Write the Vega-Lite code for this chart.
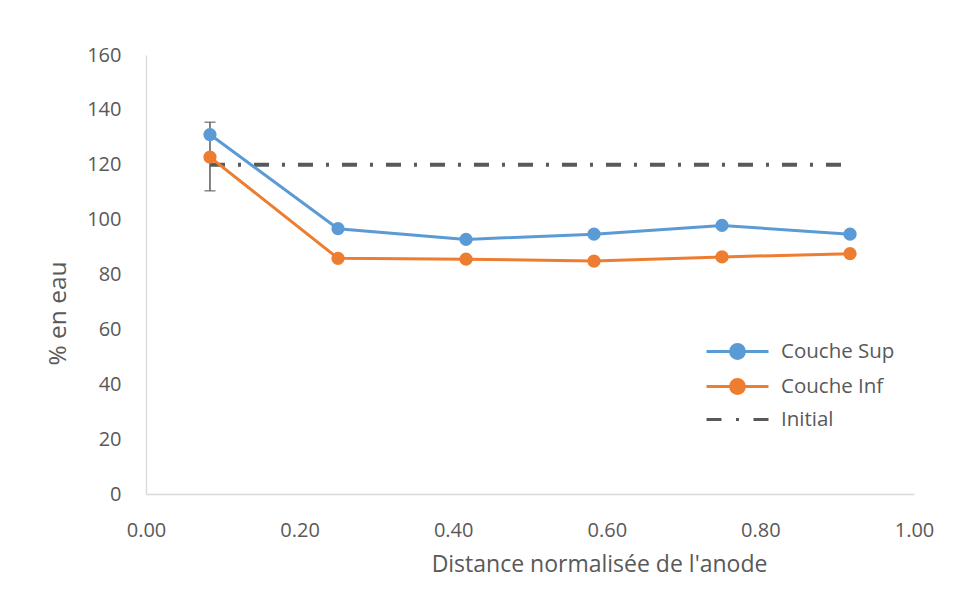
{
  "$schema": "https://vega.github.io/schema/vega-lite/v6.json",
  "autosize": {"type": "none"},
  "width": 768,
  "height": 439,
  "padding": {"left": 146, "top": 55, "right": 64, "bottom": 117},
  "background": "white",
  "config": {
    "view": {"stroke": null},
    "font": "Open Sans",
    "axis": {"domainColor": "#d9d9d9", "domainWidth": 1.3, "grid": false, "ticks": false, "labelColor": "#595959", "titleColor": "#595959", "labelFont": "Open Sans", "titleFont": "Open Sans", "labelFontSize": 20, "titleFontSize": 23, "titleFontWeight": "normal"}
  },
  "datasets": {
    "series": [
      {"x": 0.0833, "y": 131.0, "serie": "Couche Sup"},
      {"x": 0.25, "y": 96.7, "serie": "Couche Sup"},
      {"x": 0.4167, "y": 92.8, "serie": "Couche Sup"},
      {"x": 0.5833, "y": 94.7, "serie": "Couche Sup"},
      {"x": 0.75, "y": 97.9, "serie": "Couche Sup"},
      {"x": 0.9167, "y": 94.7, "serie": "Couche Sup"},
      {"x": 0.0833, "y": 122.8, "serie": "Couche Inf"},
      {"x": 0.25, "y": 85.9, "serie": "Couche Inf"},
      {"x": 0.4167, "y": 85.6, "serie": "Couche Inf"},
      {"x": 0.5833, "y": 84.9, "serie": "Couche Inf"},
      {"x": 0.75, "y": 86.4, "serie": "Couche Inf"},
      {"x": 0.9167, "y": 87.6, "serie": "Couche Inf"}
    ],
    "initial": [
      {"x": 0.0833, "y": 120, "serie": "Initial"},
      {"x": 0.9167, "y": 120, "serie": "Initial"}
    ],
    "err": [
      {"x": 0.0833, "lo": 110.5, "hi": 135.5}
    ]
  },
  "layer": [
    {
      "data": {"name": "err"},
      "mark": {"type": "rule", "color": "#595959", "strokeWidth": 1.5},
      "encoding": {
        "x": {"field": "x", "type": "quantitative", "scale": {"domain": [0, 1], "nice": false}},
        "y": {"field": "lo", "type": "quantitative"},
        "y2": {"field": "hi"}
      }
    },
    {
      "data": {"name": "err"},
      "mark": {"type": "tick", "orient": "horizontal", "color": "#595959", "thickness": 1.5, "size": 11},
      "encoding": {
        "x": {"field": "x", "type": "quantitative"},
        "y": {"field": "lo", "type": "quantitative"}
      }
    },
    {
      "data": {"name": "err"},
      "mark": {"type": "tick", "orient": "horizontal", "color": "#595959", "thickness": 1.5, "size": 11},
      "encoding": {
        "x": {"field": "x", "type": "quantitative"},
        "y": {"field": "hi", "type": "quantitative"}
      }
    },
    {
      "data": {"name": "initial"},
      "mark": {"type": "line", "strokeWidth": 3.8, "strokeDash": [15, 13, 3, 13]},
      "encoding": {
        "x": {"field": "x", "type": "quantitative"},
        "y": {"field": "y", "type": "quantitative"},
        "color": {"field": "serie", "type": "nominal"}
      }
    },
    {
      "data": {"name": "series"},
      "mark": {"type": "line", "strokeWidth": 3},
      "encoding": {
        "x": {"field": "x", "type": "quantitative"},
        "y": {"field": "y", "type": "quantitative"},
        "color": {"field": "serie", "type": "nominal"}
      }
    },
    {
      "data": {"name": "series"},
      "mark": {"type": "point", "filled": true, "opacity": 1, "size": 175, "shape": "circle"},
      "encoding": {
        "x": {"field": "x", "type": "quantitative"},
        "y": {"field": "y", "type": "quantitative"},
        "color": {"field": "serie", "type": "nominal"}
      }
    },
    {
      "data": {"name": "series"},
      "mark": {"type": "point", "filled": true, "opacity": 0},
      "encoding": {
        "x": {"field": "x", "type": "quantitative",
          "axis": {"title": "Distance normalisée de l'anode", "format": ".2f", "values": [0, 0.2, 0.4, 0.6, 0.8, 1.0], "labelFlush": false, "labelFontSize": 20, "labelPadding": 26, "titleX": 453, "titleY": 70, "titleBaseline": "middle"}},
        "y": {"field": "y", "type": "quantitative",
          "scale": {"domain": [0, 160]},
          "axis": {"title": "% en eau", "titleFontSize": 24.5, "labelFontSize": 20, "values": [0, 20, 40, 60, 80, 100, 120, 140, 160], "labelPadding": 25, "titleX": -88, "titleY": 258, "titleBaseline": "middle", "titleAngle": -90}},
        "color": {
          "field": "serie", "type": "nominal",
          "scale": {"domain": ["Couche Sup", "Couche Inf", "Initial"], "range": ["#5b9bd5", "#ed7d31", "#595959"]},
          "legend": {
            "title": null, "orient": "none", "legendX": 580, "legendY": 285,
            "labelFontSize": 20.5, "labelColor": "#595959", "labelFont": "Open Sans",
            "symbolSize": 400, "symbolStrokeWidth": 3, "symbolOpacity": 1,
            "rowPadding": 8, "labelOffset": 32,
            "encode": {"symbols": {"update": {"fill": {"scale": "color", "field": "value"}, "stroke": {"scale": "color", "field": "value"}, "opacity": {"value": 1}, "strokeWidth": {"value": 3}}}}
          }
        },
        "shape": {
          "field": "serie", "type": "nominal",
          "scale": {"domain": ["Couche Sup", "Couche Inf", "Initial"], "range": ["M-3.1,0H-0.72M0.72,0H3.1M-0.69,0A0.69,0.69,0,1,0,0.69,0A0.69,0.69,0,1,0,-0.69,0Z", "M-3.1,0H-0.72M0.72,0H3.1M-0.69,0A0.69,0.69,0,1,0,0.69,0A0.69,0.69,0,1,0,-0.69,0Z", "M-3.1,0H-1.6M-0.15,0H0.15M1.6,0H3.1"]},
          "legend": null
        }
      }
    }
  ]
}
